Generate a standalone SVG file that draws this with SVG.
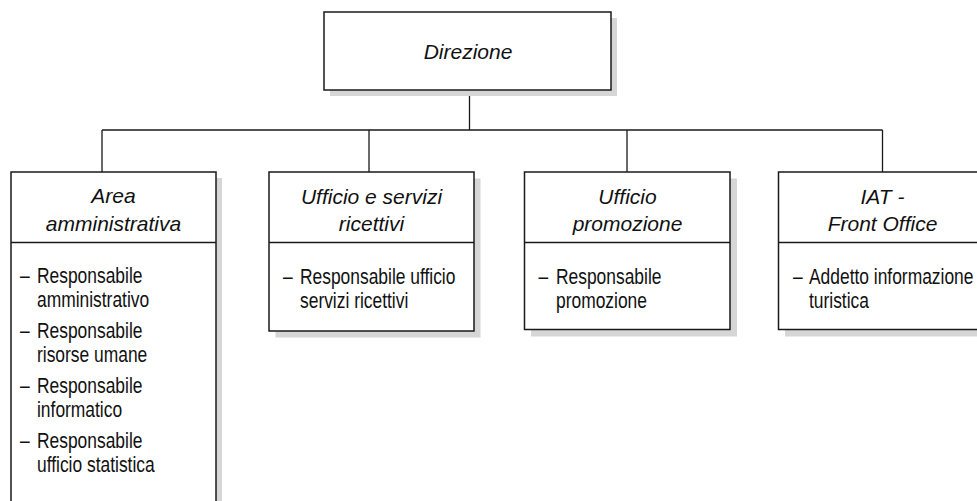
<svg xmlns="http://www.w3.org/2000/svg" width="977" height="501" viewBox="0 0 977 501">
<style>
.shadow{fill:#d6d6d6;stroke:none}
.box{fill:#fff;stroke:#1a1a1a;stroke-width:1.5}
.div{stroke:#1a1a1a;stroke-width:1.3}
.conn{stroke:#1a1a1a;stroke-width:1.3;fill:none}
.title{font-family:"Liberation Sans",Arial,sans-serif;font-style:italic;font-size:21px;fill:#111;text-anchor:middle}
.body{font-family:"Liberation Sans",Arial,sans-serif;font-size:21.5px;fill:#111}
</style>
<rect width="977" height="501" fill="#fff"/>
<g id="connectors">
<path class="conn" d="M469.5 90V130M102 130H882.5M102 130V172M369 130V172M627 130V172M882.5 130V172"/>
</g>
<g id="direzione">
<rect class="shadow" x="330" y="18" width="287" height="78"/>
<rect class="box" x="324" y="12" width="287" height="78"/>
<text class="title" x="468" y="59">Direzione</text>
</g>
<g id="area-amministrativa">
<rect class="shadow" x="17" y="178" width="205" height="340"/>
<rect class="box" x="11" y="172" width="205" height="340"/>
<line class="div" x1="11" y1="242.5" x2="216" y2="242.5"/>
<text class="title" x="113.5" y="203">Area</text>
<text class="title" x="113.5" y="231">amministrativa</text>
<text class="body" transform="translate(20 0) scale(0.81 1)"><tspan x="0" y="283">–</tspan><tspan x="0" y="338">–</tspan><tspan x="0" y="393">–</tspan><tspan x="0" y="448">–</tspan></text>
<text class="body" transform="translate(37 0) scale(0.81 1)"><tspan x="0" y="283">Responsabile</tspan><tspan x="0" y="307">amministrativo</tspan><tspan x="0" y="338">Responsabile</tspan><tspan x="0" y="362">risorse umane</tspan><tspan x="0" y="393">Responsabile</tspan><tspan x="0" y="417">informatico</tspan><tspan x="0" y="448">Responsabile</tspan><tspan x="0" y="472">ufficio statistica</tspan></text>
</g>
<g id="ufficio-servizi-ricettivi">
<rect class="shadow" x="275.5" y="178.5" width="205" height="159"/>
<rect class="box" x="269" y="172" width="205" height="159"/>
<line class="div" x1="269" y1="242.5" x2="474" y2="242.5"/>
<text class="title" x="371.5" y="204">Ufficio e servizi</text>
<text class="title" x="371.5" y="231">ricettivi</text>
<text class="body" transform="translate(283 0) scale(0.81 1)"><tspan x="0" y="284">–</tspan></text>
<text class="body" transform="translate(300 0) scale(0.81 1)"><tspan x="0" y="284">Responsabile ufficio</tspan><tspan x="0" y="308">servizi ricettivi</tspan></text>
</g>
<g id="ufficio-promozione">
<rect class="shadow" x="531" y="178.5" width="206" height="158"/>
<rect class="box" x="524.5" y="172" width="205.5" height="157.5"/>
<line class="div" x1="524.5" y1="242.5" x2="730" y2="242.5"/>
<text class="title" x="627.5" y="204">Ufficio</text>
<text class="title" x="627.5" y="231">promozione</text>
<text class="body" transform="translate(538.5 0) scale(0.81 1)"><tspan x="0" y="284">–</tspan></text>
<text class="body" transform="translate(556 0) scale(0.81 1)"><tspan x="0" y="284">Responsabile</tspan><tspan x="0" y="308">promozione</tspan></text>
</g>
<g id="iat-front-office">
<rect class="shadow" x="785" y="178.5" width="210" height="158"/>
<rect class="box" x="778.5" y="172" width="210" height="157.5"/>
<line class="div" x1="778.5" y1="242.5" x2="988" y2="242.5"/>
<text class="title" x="882.5" y="204">IAT -</text>
<text class="title" x="882.5" y="231">Front Office</text>
<text class="body" transform="translate(793 0) scale(0.81 1)"><tspan x="0" y="284">–</tspan></text>
<text class="body" transform="translate(809 0) scale(0.81 1)"><tspan x="0" y="284">Addetto informazione</tspan><tspan x="0" y="308">turistica</tspan></text>
</g>
</svg>
